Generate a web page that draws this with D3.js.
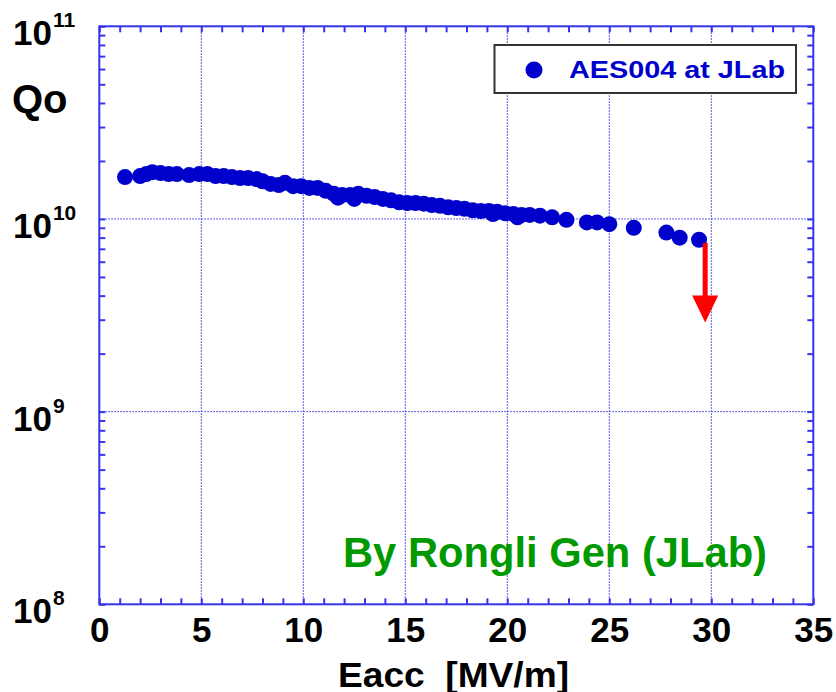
<!DOCTYPE html>
<html><head><meta charset="utf-8">
<script src="https://cdn.jsdelivr.net/npm/d3@7"></script>
<style>body{margin:0;background:#fff}svg{display:block}text{font-family:Arial,"Liberation Sans",sans-serif}</style>
</head><body>
<svg id="c" width="836" height="692"></svg>
<script>
// ---- data ----
const eacc = [1.26,2.0,2.3,2.6,3.0,3.4,3.8,4.4,4.9,5.3,5.7,6.1,6.5,6.9,7.3,7.7,8.0,8.4,8.8,9.1,9.5,9.9,10.3,10.7,11.1,11.5,11.7,11.9,12.3,12.5,12.7,13.1,13.5,13.9,14.3,14.7,15.1,15.5,15.9,16.3,16.7,17.1,17.5,17.9,18.3,18.7,19.1,19.3,19.5,19.9,20.3,20.5,20.7,21.1,21.6,22.2,22.9,23.9,24.4,25.0,26.2,27.8,28.45,29.4];
const qo   = [1.65e10,1.67e10,1.71e10,1.75e10,1.73e10,1.71e10,1.71e10,1.69e10,1.71e10,1.71e10,1.67e10,1.67e10,1.65e10,1.63e10,1.63e10,1.61e10,1.57e10,1.52e10,1.50e10,1.54e10,1.48e10,1.48e10,1.45e10,1.45e10,1.40e10,1.35e10,1.29e10,1.33e10,1.33e10,1.27e10,1.35e10,1.32e10,1.30e10,1.27e10,1.25e10,1.22e10,1.21e10,1.21e10,1.20e10,1.18e10,1.17e10,1.15e10,1.14e10,1.13e10,1.11e10,1.10e10,1.10e10,1.06e10,1.09e10,1.07e10,1.06e10,1.02e10,1.05e10,1.05e10,1.04e10,1.02e10,0.99e10,0.96e10,0.96e10,0.94e10,0.90e10,0.85e10,0.80e10,0.78e10];
const seriesName = "AES004 at JLab";
const xMajor = [0,5,10,15,20,25,30,35];
const xMinor = d3.range(1,35).filter(v => v % 5 !== 0);
const yMajor = [1e8,1e9,1e10,1e11];
const yExp   = ["8","9","10","11"];
const yMinor = [1e8,1e9,1e10].flatMap(d => [2,3,4,5,6,7,8,9].map(m => m*d));
const arrowE = 29.7, arrowFrom = 7.5e9, arrowTo = 2.9e9;
const xTitle = "Eacc  [MV/m]", yTitle = "Qo", credit = "By Rongli Gen (JLab)";

// ---- layout ----
const L = 99.3, R = 813.3, T = 26.3, B = 604.3;
const axisColor = "#3535ee", gridColor = "#2a2ae0", markColor = "#0000cc";
const svg = d3.select("#c");
const x = d3.scaleLinear().domain([0,35]).range([L,R]);
const y = d3.scaleLog().domain([1e8,1e11]).range([B,T]);

// grid
const g = svg.append("g");
g.selectAll(".gx").data(xMajor.slice(1,-1)).join("line")
  .attr("x1",d=>x(d)).attr("x2",d=>x(d)).attr("y1",T).attr("y2",B)
  .attr("stroke",gridColor).attr("stroke-width",1).attr("stroke-dasharray","1.5,1.5");
g.selectAll(".gy").data(yMajor.slice(1,-1)).join("line")
  .attr("y1",d=>y(d)).attr("y2",d=>y(d)).attr("x1",L).attr("x2",R)
  .attr("stroke",gridColor).attr("stroke-width",1).attr("stroke-dasharray","1.5,1.5");

// ticks via d3 axes (inward)
function styleAxis(sel){ sel.select(".domain").remove(); sel.selectAll("line").attr("stroke",axisColor).attr("stroke-width",2); }
svg.append("g").attr("transform",`translate(0,${B})`)
  .call(d3.axisBottom(x).tickValues(xMajor).tickSize(-6).tickPadding(13).tickFormat(d3.format("d")))
  .call(styleAxis)
  .call(s=>s.selectAll("text").attr("font-size",35).attr("font-weight","bold").attr("fill","#000").attr("font-family","Arial, 'Liberation Sans', sans-serif"));
svg.append("g").attr("transform",`translate(0,${B})`).call(d3.axisBottom(x).tickValues(xMinor).tickSize(-6).tickFormat("")).call(styleAxis);
svg.append("g").attr("transform",`translate(0,${T})`).call(d3.axisTop(x).tickValues(xMajor.concat(xMinor)).tickSize(-6).tickFormat("")).call(styleAxis);
svg.append("g").attr("transform",`translate(${L},0)`).call(d3.axisLeft(y).tickValues(yMajor.concat(yMinor)).tickSize(-6).tickFormat("")).call(styleAxis);
svg.append("g").attr("transform",`translate(${R},0)`).call(d3.axisRight(y).tickValues(yMajor.concat(yMinor)).tickSize(-6).tickFormat("")).call(styleAxis);

// frame
svg.append("rect").attr("x",L).attr("y",T).attr("width",R-L).attr("height",B-T)
  .attr("fill","none").attr("stroke",axisColor).attr("stroke-width",2);

// y labels with superscripts
const yl = svg.append("g").selectAll("text").data(yMajor).join("text")
  .attr("x",13).attr("y",d=>y(d)+19).attr("font-size",35).attr("font-weight","bold").attr("fill","#000");
yl.append("tspan").text("10");
yl.append("tspan").attr("dy",-18).attr("dx",1).attr("font-size",21).text((d,i)=>yExp[i]);

// titles
svg.append("text").attr("x",12).attr("y",113).attr("font-size",40).attr("font-weight","bold").attr("fill","#000").text(yTitle);
svg.append("text").attr("x",338).attr("y",686.5).attr("font-size",35).attr("font-weight","bold")
  .attr("textLength",231).attr("lengthAdjust","spacingAndGlyphs").attr("fill","#000").attr("xml:space","preserve").text(xTitle);

// credit
svg.append("text").attr("x",343).attr("y",566.5).attr("font-size",42).attr("font-weight","bold")
  .attr("textLength",424).attr("lengthAdjust","spacingAndGlyphs").attr("fill","#009900").text(credit);

// data points
svg.append("g").selectAll("circle").data(eacc.map((e,i)=>[e,qo[i]])).join("circle")
  .attr("cx",d=>x(d[0])).attr("cy",d=>y(d[1])).attr("r",8).attr("fill",markColor);

// red arrow
const ax = x(arrowE), ay1 = y(arrowFrom), ay2 = y(arrowTo), head = 27;
svg.append("line").attr("x1",ax).attr("x2",ax).attr("y1",ay1).attr("y2",ay2-head+2)
  .attr("stroke","#ff0000").attr("stroke-width",5);
svg.append("path").attr("d",`M${ax-13},${ay2-head}L${ax+13},${ay2-head}L${ax},${ay2}Z`).attr("fill","#ff0000");

// legend
svg.append("rect").attr("x",494.5).attr("y",45).attr("width",301.5).attr("height",48)
  .attr("fill","#fff").attr("stroke","#333").attr("stroke-width",2);
svg.append("circle").attr("cx",534).attr("cy",70).attr("r",8.5).attr("fill",markColor);
svg.append("text").attr("x",569).attr("y",77.5).attr("font-size",24).attr("font-weight","bold")
  .attr("textLength",216).attr("lengthAdjust","spacingAndGlyphs").attr("fill",markColor).text(seriesName);
</script>
</body></html>
